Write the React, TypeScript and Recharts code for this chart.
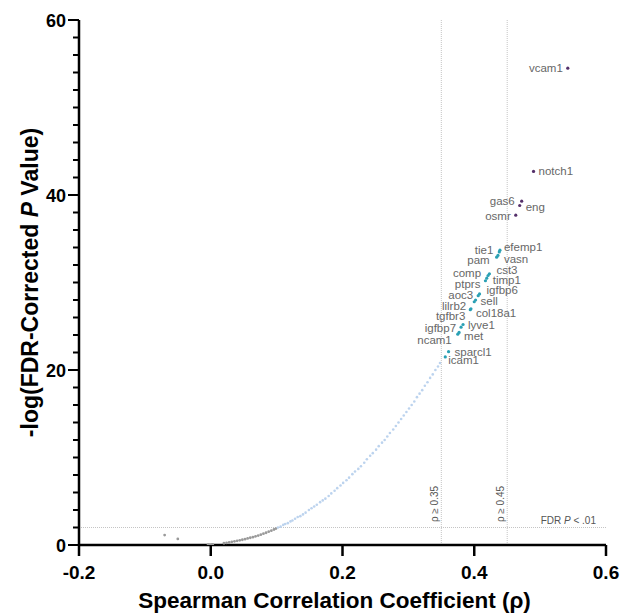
import { ScatterChart, Scatter, XAxis, YAxis, ReferenceLine, Label } from "recharts";

// top hits (rho >= 0.45)
const topGenes = ["vcam1", "notch1", "gas6", "eng", "osmr"];
const topRho = [0.542, 0.49, 0.472, 0.469, 0.463];
const topLogP = [54.5, 42.7, 39.3, 38.8, 37.7];

// 0.35 <= rho < 0.45
const midGenes = ["efemp1", "tie1", "vasn", "pam", "cst3", "comp", "timp1", "ptprs", "igfbp6", "aoc3", "sell", "lilrb2", "col18a1", "tgfbr3", "lyve1", "igfbp7", "met", "ncam1", "sparcl1", "icam1"];
const midRho = [0.439, 0.438, 0.436, 0.434, 0.423, 0.421, 0.419, 0.417, 0.408, 0.406, 0.402, 0.4, 0.395, 0.394, 0.383, 0.38, 0.377, 0.375, 0.361, 0.356];
const midLogP = [33.7, 33.5, 33.1, 32.9, 31.0, 30.8, 30.5, 30.2, 28.7, 28.5, 28.0, 27.8, 27.0, 26.9, 25.2, 24.9, 24.3, 24.1, 22.1, 21.5];

// significant but rho < 0.35
const sigRho = [0.102, 0.106, 0.11, 0.113, 0.117, 0.121, 0.124, 0.128, 0.132, 0.136, 0.14, 0.144, 0.149, 0.153, 0.157, 0.161, 0.166, 0.17, 0.174, 0.179, 0.183, 0.188, 0.192, 0.197, 0.201, 0.206, 0.21, 0.215, 0.219, 0.224, 0.228, 0.233, 0.237, 0.242, 0.246, 0.251, 0.255, 0.26, 0.264, 0.268, 0.272, 0.277, 0.281, 0.285, 0.289, 0.293, 0.297, 0.301, 0.305, 0.309, 0.313, 0.317, 0.321, 0.325, 0.329, 0.333, 0.337, 0.341, 0.345, 0.348];
const sigLogP = [2.0, 2.1, 2.3, 2.4, 2.5, 2.7, 2.8, 3.0, 3.2, 3.3, 3.5, 3.7, 4.0, 4.2, 4.4, 4.6, 4.9, 5.1, 5.3, 5.6, 5.9, 6.2, 6.5, 6.8, 7.1, 7.4, 7.7, 8.1, 8.4, 8.7, 9.0, 9.4, 9.8, 10.2, 10.5, 10.9, 11.3, 11.7, 12.0, 12.4, 12.8, 13.2, 13.6, 14.0, 14.4, 14.8, 15.2, 15.6, 16.0, 16.4, 16.9, 17.3, 17.7, 18.2, 18.6, 19.1, 19.5, 20.0, 20.4, 20.8];

// not significant
const nsRho = [-0.07, -0.05, -0.004, -0.002, 0.001, 0.003, 0.02, 0.024, 0.028, 0.032, 0.036, 0.04, 0.044, 0.048, 0.052, 0.056, 0.06, 0.064, 0.068, 0.072, 0.076, 0.08, 0.084, 0.088, 0.092, 0.096, 0.099];
const nsLogP = [1.14, 0.7, 0.05, 0.02, 0.03, 0.06, 0.2, 0.25, 0.3, 0.36, 0.42, 0.48, 0.54, 0.6, 0.67, 0.75, 0.83, 0.9, 0.99, 1.08, 1.18, 1.29, 1.4, 1.52, 1.64, 1.77, 1.88];

const xTicks = [-0.2, 0, 0.2, 0.4, 0.6];
const yTicks = [0, 2, 4, 6, 8, 10, 12, 14, 16, 18, 20, 22, 24, 26, 28, 30, 32, 34, 36, 38, 40, 42, 44, 46, 48, 50, 52, 54, 56, 58, 60];

const FONT = "'Liberation Sans', Arial, sans-serif";

// where each gene name sits relative to its dot
const labelPos: Record<string, [number, number, "start" | "end"]> = {
  vcam1: [-5, 0, "end"], notch1: [5, 0, "start"], gas6: [-7, 0, "end"], eng: [6, 1, "start"], osmr: [-5, 1, "end"],
  efemp1: [4, -3, "start"], tie1: [-6, -2, "end"], vasn: [6, 4, "start"], pam: [-7, 3, "end"],
  cst3: [7, -4, "start"], comp: [-7, -3, "end"], timp1: [6, 2, "start"], ptprs: [-5, 3, "end"],
  igfbp6: [7, -4, "start"], aoc3: [-5, -1, "end"], sell: [5, 1, "start"], lilrb2: [-8, 4, "end"],
  col18a1: [5, 4, "start"], tgfbr3: [-5, 6, "end"], lyve1: [5, 0, "start"], igfbp7: [-5, 1, "end"],
  met: [5, 4, "start"], ncam1: [-6, 6, "end"], sparcl1: [6, 0, "start"], icam1: [3, 3, "start"],
};

const toPoints = (rho: number[], logp: number[], genes?: string[]) =>
  rho.map((r, i) => ({ rho: r, logp: logp[i], gene: genes ? genes[i] : "" }));

const topData = toPoints(topRho, topLogP, topGenes);
const midData = toPoints(midRho, midLogP, midGenes);
const sigData = toPoints(sigRho, sigLogP);
const nsData = toPoints(nsRho, nsLogP);

const labeledDot = (color: string) => (props: any) => {
  const { cx, cy, payload } = props;
  const pos = labelPos[payload.gene] || [5, 0, "start"];
  return (
    <g>
      <circle cx={cx} cy={cy} r={1.6} fill={color} />
      <text x={cx + pos[0]} y={cy + pos[1] + 4} textAnchor={pos[2]} fontSize={11.5} fill="#676767" fontFamily={FONT}>
        {payload.gene}
      </text>
    </g>
  );
};

const plainDot = (color: string, r: number) => (props: any) => (
  <circle cx={props.cx} cy={props.cy} r={r} fill={color} />
);

const YTick = (props: any) => {
  const { x, y, payload } = props;
  const major = payload.value % 20 === 0;
  return (
    <g>
      <line x1={x - (major ? 11 : 6)} x2={x} y1={y} y2={y} stroke="#000" strokeWidth={2} />
      {major && (
        <text x={x - 13} y={y + 6.5} textAnchor="end" fontSize={18} fontWeight="bold" fontFamily={FONT} fill="#000">
          {payload.value}
        </text>
      )}
    </g>
  );
};

const XTick = (props: any) => {
  const { x, y, payload } = props;
  return (
    <g>
      <line x1={x} x2={x} y1={y} y2={y + 11} stroke="#000" strokeWidth={2.5} />
      <text x={x} y={y + 34} textAnchor="middle" fontSize={19} fontWeight="bold" fontFamily={FONT} fill="#000">
        {payload.value.toFixed(1)}
      </text>
    </g>
  );
};

const XTitle = (props: any) => {
  const { x, y, width } = props.viewBox;
  return (
    <text x={x + width / 2 - 8} y={y + 63} textAnchor="middle" fontSize={22.5} fontWeight="bold" fontFamily={FONT} fill="#000">
      Spearman Correlation Coefficient (ρ)
    </text>
  );
};

const YTitle = (props: any) => {
  const { y, height } = props.viewBox;
  const tx = 38;
  const ty = y + height / 2;
  return (
    <text x={tx} y={ty} transform={`rotate(-90 ${tx} ${ty})`} textAnchor="middle" fontSize={23} fontWeight="bold" fontFamily={FONT} fill="#000">
      -log(FDR-Corrected <tspan fontStyle="italic">P</tspan> Value)
    </text>
  );
};

const RhoLabel = (text: string) => (props: any) => {
  const { x, y, height } = props.viewBox;
  const tx = x - 3;
  const ty = y + height - 41;
  return (
    <text x={tx} y={ty} transform={`rotate(-90 ${tx} ${ty})`} textAnchor="middle" fontSize={10} fill="#555" fontFamily={FONT}>
      {text}
    </text>
  );
};

const FdrLabel = (props: any) => {
  const { x, y, width } = props.viewBox;
  return (
    <text x={x + width - 10} y={y - 4} textAnchor="end" fontSize={10} fill="#555" fontFamily={FONT}>
      FDR <tspan fontStyle="italic">P</tspan> {"< .01"}
    </text>
  );
};

export default function App() {
  return (
    <div style={{ position: "absolute", left: 0, top: 0, background: "#fff" }}>
      <ScatterChart width={623} height={613} margin={{ top: 20, right: 17, bottom: 0, left: 0 }}>
        <XAxis
          type="number"
          dataKey="rho"
          domain={[-0.2, 0.6]}
          ticks={xTicks}
          height={68}
          tickSize={0}
          tickMargin={0}
          tick={XTick}
          axisLine={{ stroke: "#000", strokeWidth: 2.5 }}
          tickLine={false}
          allowDataOverflow
        >
          <Label content={XTitle} />
        </XAxis>
        <YAxis
          type="number"
          dataKey="logp"
          domain={[0, 60]}
          ticks={yTicks}
          interval={0}
          width={79}
          tickSize={0}
          tickMargin={0}
          tick={YTick}
          axisLine={{ stroke: "#000", strokeWidth: 2.5 }}
          tickLine={false}
          allowDataOverflow
        >
          <Label content={YTitle} />
        </YAxis>
        <ReferenceLine x={0.35} stroke="#c4c4c4" strokeDasharray="1 1" label={RhoLabel("ρ ≥ 0.35")} />
        <ReferenceLine x={0.45} stroke="#c4c4c4" strokeDasharray="1 1" label={RhoLabel("ρ ≥ 0.45")} />
        <ReferenceLine y={2} stroke="#c4c4c4" strokeDasharray="1 1" label={FdrLabel} />
        <Scatter data={nsData} fill="#9a9a9a" shape={plainDot("#9a9a9a", 1.4)} isAnimationActive={false} />
        <Scatter data={sigData} fill="#bcd3ee" shape={plainDot("#bcd3ee", 1.3)} isAnimationActive={false} />
        <Scatter data={midData} fill="#2aa0b4" shape={labeledDot("#2aa0b4")} isAnimationActive={false} />
        <Scatter data={topData} fill="#55306a" shape={labeledDot("#55306a")} isAnimationActive={false} />
      </ScatterChart>
    </div>
  );
}
